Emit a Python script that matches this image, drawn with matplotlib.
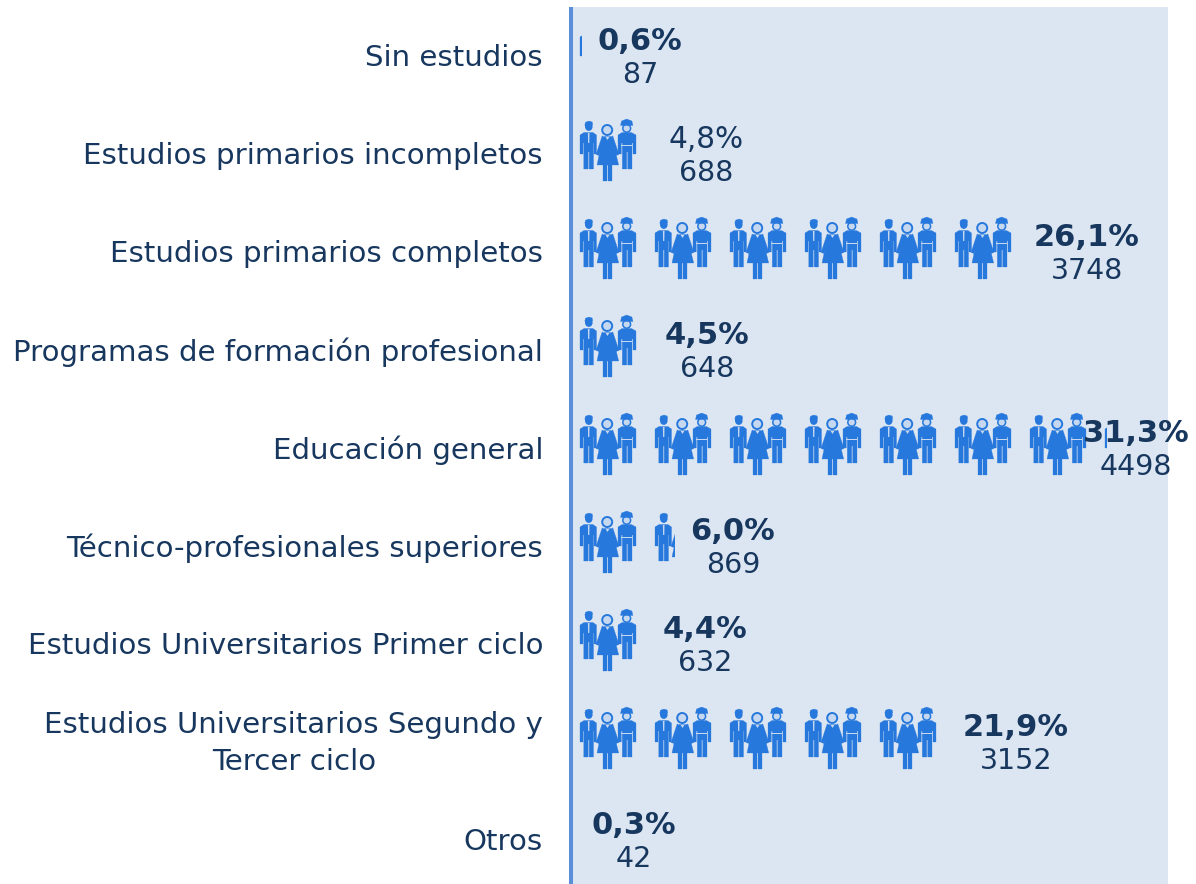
import matplotlib
matplotlib.use("Agg")
import matplotlib.pyplot as plt
from matplotlib.patches import Polygon, Circle, Ellipse, Rectangle
from matplotlib.transforms import Affine2D, ScaledTranslation

categories = ["Sin estudios", "Estudios primarios incompletos", "Estudios primarios completos",
              "Programas de formación profesional", "Educación general",
              "Técnico-profesionales superiores", "Estudios Universitarios Primer ciclo",
              "Estudios Universitarios Segundo y\nTercer ciclo", "Otros"]
percent = [0.6, 4.8, 26.1, 4.5, 31.3, 6.0, 4.4, 21.9, 0.3]
counts = [87, 688, 3748, 648, 4498, 869, 632, 3152, 42]
bold_pct = [True, False, True, True, True, True, True, True, True]

W, H = 1196, 884
NAVY = "#17375E"
BLUE = "#2778DC"
PANEL = "#DCE6F2"
SPINE = "#5B8FD9"
FACE = "#C5D8F0"
PX_PER_PCT = 17.1
ICON_PITCH_PCT = 75 / PX_PER_PCT
LABEL_PX = [640, 706, 1087, 707, 1136, 733, 705, 1016, 634]   # label centres, figure pixels

fig = plt.figure(figsize=(W / 100, H / 100), dpi=100)
L, R, T, B = 571, 1168, 7, 884
ax = fig.add_axes([L / W, 1 - B / H, (R - L) / W, (B - T) / H])
ROW = 98
ax.set_xlim((L - 572) / PX_PER_PCT, (R - 572) / PX_PER_PCT)
ax.set_ylim((B - 57) / ROW, (T - 57) / ROW)
ax.set_facecolor(PANEL)
for s in ("top", "right", "bottom"):
    ax.spines[s].set_visible(False)
ax.spines["left"].set_color(SPINE)
ax.spines["left"].set_linewidth(2.9)
ax.spines["left"].set_capstyle("butt")
ax.set_xticks([])
ax.set_yticks(range(len(categories)))
ax.set_yticklabels(categories, fontsize=21.05, color=NAVY, fontfamily="DejaVu Sans",
                   ha="right", multialignment="center", linespacing=1.4)
ax.tick_params(axis="y", length=0, pad=20.1)
for lab in ax.get_yticklabels():
    shift = 7 if "\n" in lab.get_text() else 2
    up = ScaledTranslation(0, shift / 100, fig.dpi_scale_trans)
    lab.set_transform(lab.get_transform() + up)

# icon shapes in local pixels (y downward)
MAN = [(4, 19), (8, 16.5), (17, 16.5), (20.5, 19), (20.5, 38), (18, 38), (18, 27), (17.5, 27),
       (17.5, 53), (13.2, 53), (13.2, 36), (12.2, 36), (12.2, 53), (7.8, 53), (7.8, 27), (7, 27),
       (7, 38), (4, 38)]
MAN_HAIR = [(8.8, 9), (9.5, 6.2), (13, 5), (16.2, 6), (16.8, 9), (15, 8), (11, 8), (9.8, 11)]
BODY = [(27.5, 20.5), (35.5, 20.5), (38, 30), (42.7, 49), (36, 49), (36, 65), (32, 65), (32, 49),
        (31, 49), (31, 65), (27, 65), (27, 49), (21, 49), (25, 30)]
ARM_L = [(26.2, 19.8), (28.5, 22), (23, 39.5), (20, 38.5)]
ARM_R = [(36.8, 19.8), (34.5, 22), (40, 39.5), (43, 38.5)]
WORKER = [(42, 19), (46, 16.5), (55.5, 16.5), (60, 19), (60, 38), (57, 38), (57, 27), (56, 27),
          (56, 53), (51.7, 53), (51.7, 36), (50.7, 36), (50.7, 53), (46.3, 53), (46.3, 27), (45.3, 27),
          (45.3, 38), (42, 38)]
HELMET = [(44.5, 9.5), (45.5, 5), (50.7, 3), (55.9, 5), (57, 9.5)]


def draw_icon(col, row, clip):
    ox, oy = ax.transData.transform((col * ICON_PITCH_PCT, row))
    t = Affine2D().scale(1, -1).translate(ox + 4, oy + 39)
    solid = dict(closed=True, fc=BLUE, ec=BLUE, lw=0.2)
    shapes = [
        Polygon(MAN, **solid),
        Polygon(MAN_HAIR, **solid),
        Ellipse((12.8, 10.6), 7.6, 8.6, fc=BLUE, lw=0),
        Polygon(BODY, **solid),
        Polygon(ARM_L, **solid),
        Polygon(ARM_R, **solid),
        Circle((31.2, 14), 5.0, fc=FACE, ec=BLUE, lw=1.4),
        Polygon(WORKER, **solid),
        Circle((50.7, 12.3), 3.9, fc=FACE, ec=BLUE, lw=1.1),
        Polygon(HELMET, **solid),
        Polygon([(11.9, 17), (13.5, 17), (13.3, 27), (12.1, 27)], closed=True, fc=FACE, lw=0),
        Polygon([(29.5, 20.8), (33.5, 20.8), (31.5, 24)], closed=True, fc=FACE, lw=0),
        Polygon([(45.3, 29), (56, 29), (56, 29.8), (45.3, 29.8)], closed=True, fc=FACE, lw=0),
    ]
    for p in shapes:
        p.set_transform(t)
        ax.add_artist(p)
        p.set_clip_path(clip)


for row, v in enumerate(percent):
    # bar footprint: the icons are cut off where the value ends
    bar = Rectangle((0, row - 0.5), v, 1, transform=ax.transData, fc="none", ec="none")
    ax.add_patch(bar)
    n = int(v // ICON_PITCH_PCT) + 1
    for col in range(n):
        draw_icon(col, row, bar)

px_x = lambda px: (px - 572) / PX_PER_PCT
for row, (v, c, b, lx) in enumerate(zip(percent, counts, bold_pct, LABEL_PX)):
    pct = f"{v:.1f}".replace(".", ",") + "%"
    ax.annotate(pct, (px_x(lx), row), xytext=(0, 16 / 100 * 72), textcoords="offset points",
                ha="center", va="center", color=NAVY, annotation_clip=False,
                fontsize=22 if b else 21.3, fontweight="bold" if b else "normal")
    ax.annotate(str(c), (px_x(lx), row), xytext=(0, -18 / 100 * 72), textcoords="offset points",
                ha="center", va="center", color=NAVY, annotation_clip=False, fontsize=20.5)

fig.savefig("out.png", dpi=100)
